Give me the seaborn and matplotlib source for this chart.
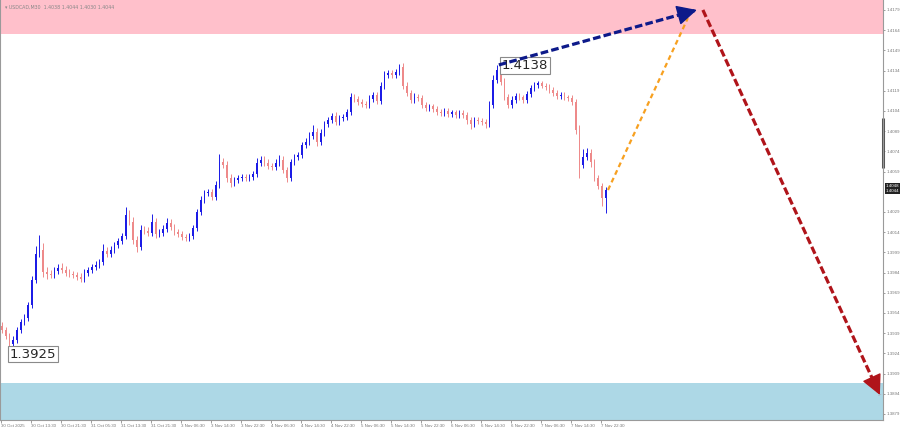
import numpy as np
import pandas as pd
import matplotlib
matplotlib.use("Agg")
import matplotlib.pyplot as plt
import matplotlib.transforms as mtransforms
import seaborn as sns

# USDCAD, one candle per hour, closes
closes = [
    1.39413, 1.39369, 1.39310, 1.39339, 1.39413, 1.39473, 1.39503, 1.39599, 1.39785, 1.39978,
    1.40008, 1.39844, 1.39829, 1.39822, 1.39852, 1.39874, 1.39859, 1.39837, 1.39829, 1.39822,
    1.39807, 1.39792, 1.39837, 1.39859, 1.39881, 1.39896, 1.39918, 1.40000, 1.39978, 1.40008,
    1.40045, 1.40074, 1.40112, 1.40267, 1.40215, 1.40082, 1.40030, 1.40156, 1.40149, 1.40134,
    1.40215, 1.40126, 1.40134, 1.40163, 1.40208, 1.40178, 1.40141, 1.40126, 1.40104, 1.40097,
    1.40112, 1.40171, 1.40290, 1.40379, 1.40431, 1.40438, 1.40401, 1.40490, 1.40661, 1.40639,
    1.40542, 1.40505, 1.40527, 1.40542, 1.40550, 1.40542, 1.40550, 1.40572, 1.40654, 1.40676,
    1.40654, 1.40631, 1.40624, 1.40654, 1.40676, 1.40602, 1.40542, 1.40661, 1.40698, 1.40713,
    1.40787, 1.40810, 1.40854, 1.40884, 1.40810, 1.40876, 1.40943, 1.40973, 1.41003, 1.40958,
    1.40988, 1.40995, 1.41032, 1.41144, 1.41129, 1.41107, 1.41092, 1.41084, 1.41129, 1.41159,
    1.41114, 1.41225, 1.41307, 1.41322, 1.41307, 1.41329, 1.41366, 1.41225, 1.41173, 1.41121,
    1.41144, 1.41136, 1.41084, 1.41062, 1.41075, 1.41055, 1.41032, 1.41025, 1.41040, 1.41018,
    1.41030, 1.41010, 1.41028, 1.41010, 1.40973, 1.40943, 1.40973, 1.40965, 1.40958, 1.40943,
    1.41084, 1.41270, 1.41344, 1.41255, 1.41144, 1.41084, 1.41121, 1.41151, 1.41140, 1.41121,
    1.41166, 1.41210, 1.41233, 1.41245, 1.41228, 1.41218, 1.41196, 1.41173, 1.41151, 1.41160,
    1.41140, 1.41136, 1.41107, 1.40899, 1.40639, 1.40698, 1.40728, 1.40661, 1.40542, 1.40483,
    1.40394, 1.40453,
]
first_open = 1.39440

# wick lengths in pips above / below the body
wick_up = [
    3, 2, 2, 3, 2, 2, 3, 2, 3, 6, 11, 5, 4, 3, 3, 3, 4, 3, 3, 2,
    2, 3, 3, 2, 2, 3, 2, 5, 3, 3, 2, 2, 2, 6, 4, 4, 3, 4, 3, 3,
    6, 3, 3, 3, 4, 3, 2, 2, 2, 2, 2, 2, 2, 3, 2, 2, 2, 3, 6, 3,
    3, 3, 2, 2, 2, 2, 2, 2, 4, 3, 3, 3, 2, 3, 4, 3, 2, 2, 2, 2,
    2, 3, 3, 5, 3, 3, 2, 2, 2, 3, 2, 2, 2, 3, 2, 2, 2, 2, 3, 2,
    2, 3, 3, 2, 2, 2, 2, 3, 3, 2, 3, 2, 2, 2, 2, 2, 2, 2, 2, 2,
    2, 2, 2, 2, 2, 2, 2, 2, 2, 2, 3, 4, 4, 3, 3, 2, 3, 2, 2, 2,
    2, 2, 2, 2, 2, 2, 2, 2, 2, 2, 2, 2, 2, 2, 4, 6, 4, 3, 2, 2,
    2, 2,
]
wick_dn = [
    2, 2, 3, 2, 2, 2, 2, 2, 2, 2, 2, 4, 4, 2, 2, 2, 2, 2, 2, 2,
    2, 2, 2, 2, 2, 2, 2, 2, 2, 2, 2, 2, 2, 2, 2, 3, 4, 2, 2, 2,
    2, 3, 2, 2, 2, 2, 2, 2, 2, 2, 2, 2, 2, 2, 2, 2, 2, 2, 2, 2,
    3, 3, 2, 2, 2, 2, 2, 2, 2, 2, 2, 2, 2, 2, 2, 2, 3, 2, 2, 2,
    2, 2, 2, 2, 3, 2, 2, 2, 2, 2, 2, 2, 2, 2, 2, 2, 2, 2, 2, 2,
    2, 2, 2, 2, 2, 2, 2, 2, 2, 2, 2, 2, 2, 2, 2, 2, 2, 2, 2, 2,
    2, 2, 2, 2, 3, 4, 2, 2, 2, 3, 2, 2, 2, 2, 2, 2, 2, 2, 2, 2,
    2, 2, 2, 2, 2, 2, 2, 2, 2, 2, 2, 2, 2, 3, 10, 2, 2, 4, 2, 2,
    6, 11,
]

time_labels = [
    "30 Oct 2025", "30 Oct 13:30", "30 Oct 21:30", "31 Oct 05:30", "31 Oct 13:30",
    "31 Oct 21:30", "3 Nov 06:30", "3 Nov 14:30", "3 Nov 22:30", "4 Nov 06:30",
    "4 Nov 14:30", "4 Nov 22:30", "5 Nov 06:30", "5 Nov 14:30", "5 Nov 22:30",
    "6 Nov 06:30", "6 Nov 14:30", "6 Nov 22:30", "7 Nov 06:30", "7 Nov 14:30",
    "7 Nov 22:30",
]
price_ticks = [1.4179, 1.4164, 1.4149, 1.4134, 1.4119, 1.4104, 1.4089, 1.4074, 1.4059,
               1.4029, 1.4014, 1.3999, 1.3984, 1.3969, 1.3954, 1.3939, 1.3924, 1.3909,
               1.3894, 1.3879]
price_boxes = ["1.4048", "1.4044"]
price_box_levels = [1.40483, 1.40445]

resist_zone = [1.41612, 1.41870]
support_zone = [1.38740, 1.39020]

# forecast waves (bar index, price)
wave_up_x = [132.5, 185.3]
wave_up_y = [1.41382, 1.41790]
wave_alt_x = [161.6, 182.9]
wave_alt_y = [1.40453, 1.41730]
wave_down_x = [186.9, 234.1]
wave_down_y = [1.41790, 1.38931]

low_label, low_label_x, low_label_y = "1.3925", 2.1, 1.39235
high_label, high_label_x, high_label_y = "1.4138", 133.3, 1.41378

# build candles
df = pd.DataFrame({"close": closes})
df["open"] = df["close"].shift(1).fillna(first_open)
df["high"] = df[["open", "close"]].max(axis=1) + np.array(wick_up) * 0.0001
df["low"] = df[["open", "close"]].min(axis=1) - np.array(wick_dn) * 0.0001
df["bar"] = np.arange(len(df))
df["up"] = df["close"] >= df["open"]

sns.set_style("white")
plt.rcParams["font.family"] = ["DejaVu Sans"]

fig = plt.figure(figsize=(9, 4.28), dpi=100)
ax = fig.add_axes([0, 8 / 428, 883 / 900, 420 / 428])

up_col = "#1c1ce6"
dn_col = "#ee8a8a"

ax.axhspan(resist_zone[0], resist_zone[1], color="#ffc0cb", lw=0, zorder=0)
ax.axhspan(support_zone[0], support_zone[1], color="#add8e6", lw=0, zorder=0)

for is_up, col in [(True, up_col), (False, dn_col)]:
    d = df[df["up"] == is_up]
    ax.vlines(d["bar"], d["low"], d["high"], color=col, lw=0.7, zorder=2)
    body = (d["close"] - d["open"]).abs().clip(lower=0.00004)
    ax.bar(d["bar"], body, bottom=d[["open", "close"]].min(axis=1), width=0.5,
           color=col, lw=0, zorder=3)

# forecast lines
sns.lineplot(x=wave_alt_x, y=wave_alt_y, ax=ax, color="#f7a020", lw=1.6,
             linestyle=(0, (2.2, 1.6)), zorder=4)
sns.lineplot(x=wave_up_x, y=wave_up_y, ax=ax, color="#0d1a8a", lw=2.3,
             linestyle=(0, (2.4, 1.0)), zorder=6)
sns.lineplot(x=wave_down_x, y=wave_down_y, ax=ax, color="#b0141a", lw=2.3,
             linestyle=(0, (2.4, 1.0)), zorder=6)
for wx, wy, col in [(wave_up_x, wave_up_y, "#0d1a8a"), (wave_down_x, wave_down_y, "#b0141a")]:
    tail = (wx[1] - 0.03 * (wx[1] - wx[0]), wy[1] - 0.03 * (wy[1] - wy[0]))
    ax.annotate("", xy=(wx[1], wy[1]), xytext=tail,
                arrowprops=dict(arrowstyle="-|>,head_length=0.9,head_width=0.45",
                                color=col, lw=1, mutation_scale=14,
                                shrinkA=0, shrinkB=0), zorder=7)

box = dict(boxstyle="square,pad=0.12", fc="white", ec="#8a8a8a", lw=0.8)
ax.text(low_label_x, low_label_y, low_label, fontsize=9.5, ha="left", va="center",
        bbox=box, zorder=5)
ax.text(high_label_x, high_label_y, high_label, fontsize=9.5, ha="left", va="center",
        bbox=box, zorder=5)

ax.set_xlim(-2 / 3.75, 881 / 3.75)
ax.set_ylim(1.38745, 1.41864)

small = dict(family="Liberation Sans", size=3.2)
ax.set_xticks(np.arange(len(time_labels)) * 8 - 0.27)
ax.set_xticklabels(time_labels, fontdict=small, ha="left")
ax.set_yticks(price_ticks)
ax.set_yticklabels([f"{p:.4f}" for p in price_ticks], fontdict=small)
ax.yaxis.tick_right()
ax.tick_params(axis="both", colors="#777777", length=2, width=0.5, pad=0.8)
ax.tick_params(axis="x", bottom=True)
ax.tick_params(axis="y", right=True, labelcolor="#777777", length=1.5, pad=0.8)

for side in ["left", "bottom", "right"]:
    ax.spines[side].set_color("#9a9a9a")
    ax.spines[side].set_linewidth(0.8)
ax.spines["top"].set_visible(False)

# current price boxes on the price scale
blend = mtransforms.blended_transform_factory(ax.transAxes, ax.transData)
for lab, lev in zip(price_boxes, price_box_levels):
    ax.text(1.003, lev, lab, transform=blend, family="Liberation Sans", fontsize=3.2,
            color="white", ha="left", va="center",
            bbox=dict(boxstyle="square,pad=0.2", fc="#222222", ec="none"),
            clip_on=False)
ax.plot([1, 1], [1.40616, 1.40988], transform=blend, color="#555555", lw=2.2,
        clip_on=False, solid_capstyle="butt")

fig.text(5 / 900, 1 - 7 / 428, "\u25be USDCAD,M30  1.4038 1.4044 1.4030 1.4044",
         fontsize=3.4, color="#888888", va="center", ha="left")

fig.savefig("out.png", dpi=100)
